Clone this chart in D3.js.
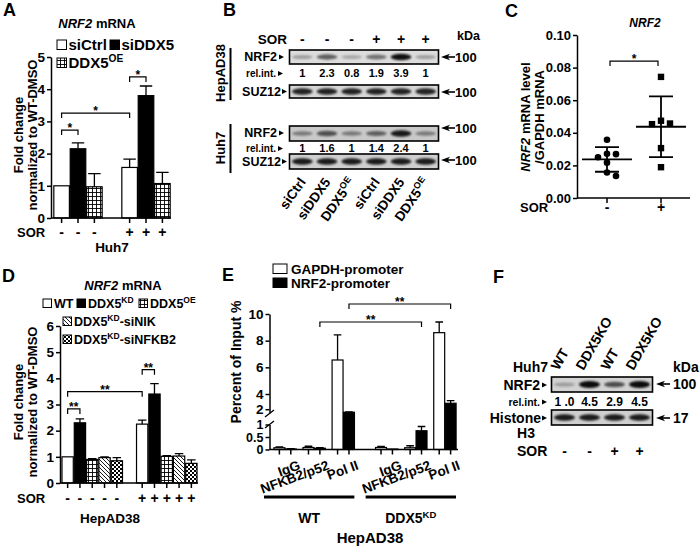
<!DOCTYPE html>
<html lang="en">
<head>
<meta charset="UTF-8">
<title>NRF2 / DDX5 figure</title>
<script src="https://d3js.org/d3.v7.min.js"></script>
<style>
  body { margin: 0; background: #fff; }
  svg { font-family: 'Liberation Sans', Arial, sans-serif; font-weight: bold; }
</style>
</head>
<body>
<div id="fig"></div>
<script>
// ---------- data ----------
// A : NRF2 mRNA, Huh7
const aSor = ["-", "+"];
const aConds = ["siCtrl", "siDDX5", "DDX5OE"];
const aMean = [[1.0, 2.15, 0.97], [1.57, 3.8, 1.07]];
const aErr = [[0, 0.18, 0.41], [0.26, 0.3, 0.35]];
const aTicks = [0, 1, 2, 3, 4, 5];
const aSig = [
  { a: ["-", "siCtrl"], b: ["-", "siDDX5"], y: 2.73, label: "*" },
  { a: ["-", "siCtrl"], b: ["+", "siCtrl"], y: 3.26, label: "*" },
  { a: ["+", "siCtrl"], b: ["+", "siDDX5"], y: 4.38, label: "*" }
];

// B : western blots
const bLaneLabels = ["siCtrl", "siDDX5", "DDX5OE", "siCtrl", "siDDX5", "DDX5OE"];
const bSor = ["-", "-", "-", "+", "+", "+"];
const bHepNrf2 = [1, 2.3, 0.8, 1.9, 3.9, 1];
const bHuhNrf2 = [1, 1.6, 1, 1.4, 2.4, 1];
const bLoading = [1, 1, 1, 1, 1, 1];

// C : NRF2 mRNA / GAPDH
const cGroups = ["-", "+"];
const cNeg = [0.0357, 0.0271, 0.0269, 0.0250, 0.0217, 0.0156, 0.0135];
const cPos = [0.0743, 0.0474, 0.0453, 0.0457, 0.0306, 0.0189];
const cTicks = [0, 0.02, 0.04, 0.06, 0.08, 0.10];

// D : NRF2 mRNA, HepAD38
const dSor = ["-", "+"];
const dConds = ["WT", "DDX5KD", "DDX5OE", "DDX5KD-siNIK", "DDX5KD-siNFKB2"];
const dMean = [[1.0, 2.3, 0.9, 0.97, 0.85], [2.25, 3.4, 1.02, 1.03, 0.75]];
const dErr = [[0, 0.15, 0.03, 0.03, 0.12], [0.15, 0.4, 0.03, 0.09, 0.13]];
const dTicks = [0, 1, 2, 3, 4, 5, 6];
const dSig = [
  { a: ["-", "WT"], b: ["-", "DDX5KD"], y: 2.83, label: "**" },
  { a: ["-", "WT"], b: ["+", "WT"], y: 3.49, label: "**" },
  { a: ["+", "WT"], b: ["+", "DDX5KD"], y: 4.33, label: "**" }
];

// E : ChIP, percent of input
const eLines = ["WT", "DDX5KD"];
const eAbs = ["IgG", "NFKB2/p52", "Pol II"];
const ePromoters = ["GAPDH-promoter", "NRF2-promoter"];
const eGapdh = [[0.07, 0.08, 6.55], [0.08, 0.07, 8.6]];
const eGapdhErr = [[0.03, 0.05, 1.88], [0.04, 0.08, 0.8]];
const eNrf2 = [[0.02, 0.05, 1.6], [0.02, 0.75, 2.78]];
const eNrf2Err = [[0.01, 0.02, 0.05], [0, 0.17, 0.34]];
const eUpperTicks = [2, 4, 6, 8, 10];
const eLowerTicks = [0, 0.5, 1];
const eSig = [
  { a: ["WT", "NFKB2/p52"], b: ["DDX5KD", "NFKB2/p52"], y: 9.4, label: "**" },
  { a: ["WT", "Pol II"], b: ["DDX5KD", "Pol II"], y: 10.75, label: "**" }
];

// F : western blot Huh7
const fLanes = ["WT", "DDX5KO", "WT", "DDX5KO"];
const fSor = ["-", "-", "+", "+"];
const fNrf2 = [1.0, 4.5, 2.9, 4.5];
const fNrf2Text = ["1 .0", "4.5", "2.9", "4.5"];
const fHistone = [1, 1, 1, 1];

// ---------- setup ----------
const svg = d3.select("#fig").append("svg").attr("width", 700).attr("height", 550);
const defs = svg.append("defs");

const pGrid = defs.append("pattern").attr("id", "grid").attr("patternUnits", "userSpaceOnUse").attr("width", 4).attr("height", 4);
pGrid.append("rect").attr("width", 4).attr("height", 4).attr("fill", "#fff");
pGrid.append("path").attr("d", "M0,0.5H4M0.5,0V4").attr("stroke", "#000").attr("stroke-width", 0.9);

const pDiag = defs.append("pattern").attr("id", "diag").attr("patternUnits", "userSpaceOnUse").attr("width", 4).attr("height", 4);
pDiag.append("rect").attr("width", 4).attr("height", 4).attr("fill", "#fff");
pDiag.append("path").attr("d", "M0,0L4,4M-1,3L1,5M3,-1L5,1").attr("stroke", "#000").attr("stroke-width", 0.9);

const pCheck = defs.append("pattern").attr("id", "check").attr("patternUnits", "userSpaceOnUse").attr("width", 4).attr("height", 4);
pCheck.append("rect").attr("width", 4).attr("height", 4).attr("fill", "#fff");
pCheck.append("rect").attr("width", 2).attr("height", 2).attr("fill", "#000");
pCheck.append("rect").attr("x", 2).attr("y", 2).attr("width", 2).attr("height", 2).attr("fill", "#000");

const blur = defs.append("filter").attr("id", "blur")
  .attr("x", "-20%").attr("y", "-100%").attr("width", "140%").attr("height", "300%");
blur.append("feGaussianBlur").attr("stdDeviation", 1.2);

const fills = {
  siCtrl: "#fff", siDDX5: "#000", DDX5OE: "url(#grid)",
  WT: "#fff", DDX5KD: "#000", "DDX5KD-siNIK": "url(#diag)", "DDX5KD-siNFKB2": "url(#check)",
  "GAPDH-promoter": "#fff", "NRF2-promoter": "#000"
};

// text with DDX5 superscripts
function rich(t, name, size) {
  const m = name.match(/^(DDX5)(OE|KD)(.*)$/);
  if (!m) return t.text(name);
  t.append("tspan").text(m[1]);
  t.append("tspan").attr("font-size", size * 0.68).attr("dy", -size * 0.38).text(m[2]);
  if (m[3]) t.append("tspan").attr("font-size", size).attr("dy", size * 0.38).text(m[3]);
  return t;
}

function txt(x, y, s, size, anchor) {
  return svg.append("text").attr("x", x).attr("y", y).attr("font-size", size)
    .attr("text-anchor", anchor || "start").text(s);
}

function vtxt(x, y, size) {
  return svg.append("text").attr("transform", `translate(${x},${y}) rotate(-90)`)
    .attr("font-size", size).attr("text-anchor", "middle");
}

function styleAxis(g, size) {
  g.attr("font-family", null).attr("font-size", size);
  g.select(".domain").attr("stroke-width", 1.5);
  g.selectAll(".tick line").attr("stroke-width", 1.5);
}

function bracket(x1, x2, yb, label, size) {
  svg.append("path").attr("d", `M${x1},${yb + 5}V${yb}H${x2}V${yb + 5}`)
    .attr("fill", "none").attr("stroke", "#000").attr("stroke-width", 1.2);
  txt((x1 + x2) / 2, yb + 2, label, size, "middle");
}

function pointer(x, y) {
  svg.append("path").attr("d", `M${x},${y - 2.5}L${x + 5},${y}L${x},${y + 2.5}Z`).attr("fill", "#000");
}

function arrowLeft(x, y) {
  svg.append("path").attr("d", `M${x},${y}L${x + 9},${y - 3.2}L${x + 6.5},${y}L${x + 9},${y + 3.2}Z`).attr("fill", "#000");
  svg.append("line").attr("x1", x + 6).attr("x2", x + 14).attr("y1", y).attr("y2", y)
    .attr("stroke", "#000").attr("stroke-width", 1.6);
}

function blot(xs, top, h, vals, maxV, bg) {
  const op = d3.scaleLinear().domain([0, maxV]).range([0.06, 0.95]);
  const [r0, r1] = xs.range();
  svg.append("rect").attr("x", r0 - 0.5).attr("y", top).attr("width", r1 - r0 + 1).attr("height", h)
    .attr("fill", bg).attr("stroke", "#000").attr("stroke-width", 1.6);
  svg.append("g").attr("filter", "url(#blur)")
    .selectAll("ellipse").data(vals).join("ellipse")
    .attr("cx", (d, i) => xs(i) + xs.bandwidth() / 2)
    .attr("cy", top + h / 2)
    .attr("rx", xs.bandwidth() * 0.42)
    .attr("ry", d => 1.6 + 1.8 * d / maxV)
    .attr("fill", "#000")
    .attr("opacity", d => op(d));
}

// grouped bar panel (A, D)
function barPanel(c) {
  const rows = [];
  c.sor.forEach((s, i) => c.conds.forEach((k, j) => rows.push({ s, k, v: c.mean[i][j], e: c.err[i][j] })));
  const bw = c.x1.bandwidth();
  const cx = (s, k) => c.x0(s) + c.x1(k) + bw / 2;

  svg.append("g").selectAll("rect").data(rows).join("rect")
    .attr("x", d => c.x0(d.s) + c.x1(d.k)).attr("y", d => c.y(d.v))
    .attr("width", bw).attr("height", d => c.y(0) - c.y(d.v))
    .attr("fill", d => fills[d.k]).attr("stroke", "#000").attr("stroke-width", 1.2);

  svg.append("g").attr("stroke", "#000").attr("stroke-width", 1.3).attr("fill", "none")
    .selectAll("path").data(rows.filter(d => d.e > 0)).join("path")
    .attr("d", d => {
      const x = cx(d.s, d.k), h = bw * c.cap / 2, t = c.y(d.v + d.e);
      return `M${x},${c.y(d.v)}V${t}M${x - h},${t}H${x + h}`;
    });

  const ya = svg.append("g").attr("transform", `translate(${c.axisX},0)`)
    .call(d3.axisLeft(c.y).tickValues(c.ticks).tickSize(4).tickSizeOuter(0).tickPadding(2).tickFormat(d3.format("d")));
  styleAxis(ya, 13.5);

  const y0 = c.y(0);
  svg.append("line").attr("x1", c.axisX).attr("x2", c.xEnd).attr("y1", y0).attr("y2", y0)
    .attr("stroke", "#000").attr("stroke-width", 1.5);
  svg.append("g").selectAll("line").data(rows).join("line")
    .attr("x1", d => cx(d.s, d.k)).attr("x2", d => cx(d.s, d.k))
    .attr("y1", y0).attr("y2", y0 + 5).attr("stroke", "#000").attr("stroke-width", 1.5);

  txt(17, c.sorY, "SOR", 13);
  svg.append("g").selectAll("text").data(rows).join("text")
    .attr("x", d => cx(d.s, d.k)).attr("y", c.sorY).attr("font-size", 14)
    .attr("text-anchor", "middle").text(d => d.s);

  c.sig.forEach(s => bracket(cx(...s.a), cx(...s.b), c.y(s.y), s.label, 12));
}

// ---------- panel letters ----------
txt(3, 16, "A", 18);
txt(223, 16, "B", 18);
txt(505, 17, "C", 18);
txt(2, 282, "D", 18);
txt(222, 281, "E", 18);
txt(493, 283, "F", 18);

// ---------- A ----------
{
  const t = txt(97, 28, "", 13, "middle");
  t.append("tspan").attr("font-style", "italic").text("NRF2");
  t.append("tspan").text(" mRNA");

  const yA = d3.scaleLinear().domain([0, 5]).range([218, 57]);
  const xA0 = d3.scaleBand().domain(aSor).range([53, 171]).paddingInner(0.265);
  const xA1 = d3.scaleBand().domain(aConds).range([0, xA0.bandwidth()]).padding(0.05);
  barPanel({ sor: aSor, conds: aConds, mean: aMean, err: aErr, y: yA, x0: xA0, x1: xA1,
    axisX: 51, xEnd: 171, ticks: aTicks, sorY: 237, sig: aSig, cap: 0.8 });

  vtxt(23, 135, 13).text("Fold change");
  vtxt(37, 135, 13).text("normalized to WT-DMSO");
  txt(112, 252, "Huh7", 13.5, "middle");

  // legend
  const leg = [
    { k: "siCtrl", x: 57, y: 40 },
    { k: "siDDX5", x: 110, y: 40 },
    { k: "DDX5OE", x: 57, y: 58 }
  ];
  leg.forEach(l => {
    svg.append("rect").attr("x", l.x).attr("y", l.y).attr("width", 9.5).attr("height", 9.5)
      .attr("fill", fills[l.k]).attr("stroke", "#000").attr("stroke-width", 1);
    rich(txt(l.x + 11.5, l.y + 10, "", 15), l.k, 15);
  });
}

// ---------- B ----------
{
  const bx = d3.scaleBand().domain(d3.range(6)).range([290, 438]);
  const lc = i => bx(i) + bx.bandwidth() / 2;

  txt(287, 44, "SOR", 13.5, "end");
  bSor.forEach((s, i) => txt(lc(i), 44, s, 14, "middle"));
  txt(457, 40, "kDa", 12.5);

  // HepAD38
  blot(bx, 50, 14, bHepNrf2, 4.0, "#dcdcdc");
  txt(277, 61, "NRF2", 12.5, "end"); pointer(279, 57);
  txt(276, 77, "rel.int.", 10, "end"); pointer(278, 73.5);
  bHepNrf2.forEach((v, i) => txt(lc(i), 77, String(v), 11, "middle"));
  blot(bx, 85, 13, bLoading, 1.15, "#d6d6d6");
  txt(281, 96, "SUZ12", 12.5, "end"); pointer(282, 91.5);
  arrowLeft(441, 57); txt(455, 62, "100", 13);
  arrowLeft(441, 92); txt(455, 97, "100", 13);
  svg.append("line").attr("x1", 230.5).attr("x2", 230.5).attr("y1", 48).attr("y2", 100)
    .attr("stroke", "#000").attr("stroke-width", 2);
  vtxt(225, 73, 13).text("HepAD38");

  // Huh7
  blot(bx, 126, 15, bHuhNrf2, 2.6, "#c9c9c9");
  txt(277, 137, "NRF2", 12.5, "end"); pointer(279, 133);
  txt(276, 152, "rel.int.", 10, "end"); pointer(278, 148.5);
  bHuhNrf2.forEach((v, i) => txt(lc(i), 152, String(v), 11, "middle"));
  blot(bx, 154, 15, bLoading, 1.1, "#cfcfcf");
  txt(281, 166, "SUZ12", 12.5, "end"); pointer(282, 161.5);
  arrowLeft(441, 128); txt(455, 133, "100", 13);
  arrowLeft(441, 160); txt(455, 165, "100", 13);
  svg.append("line").attr("x1", 230.5).attr("x2", 230.5).attr("y1", 124).attr("y2", 173)
    .attr("stroke", "#000").attr("stroke-width", 2);
  vtxt(225, 148, 13).text("Huh7");

  bLaneLabels.forEach((l, i) => {
    const t = svg.append("text").attr("transform", `translate(${lc(i) + 4},182) rotate(-55)`)
      .attr("font-size", 13.5).attr("text-anchor", "end");
    rich(t, l, 13.5);
  });
}

// ---------- C ----------
{
  txt(645, 27, "NRF2", 12, "middle").attr("font-style", "italic");
  const yC = d3.scaleLinear().domain([0, 0.1]).range([198, 35]);
  const xC = d3.scalePoint().domain(cGroups).range([607, 661]);

  const ya = svg.append("g").attr("transform", "translate(577,0)")
    .call(d3.axisLeft(yC).tickValues(cTicks).tickSize(4).tickSizeOuter(0).tickPadding(2).tickFormat(d3.format(".2f")));
  styleAxis(ya, 13);
  svg.append("line").attr("x1", 577).attr("x2", 690).attr("y1", 198).attr("y2", 198)
    .attr("stroke", "#000").attr("stroke-width", 1.5);
  cGroups.forEach(g => {
    svg.append("line").attr("x1", xC(g)).attr("x2", xC(g)).attr("y1", 198).attr("y2", 203)
      .attr("stroke", "#000").attr("stroke-width", 1.5);
    txt(xC(g), 212, g, 14, "middle");
  });
  txt(520, 212, "SOR", 13);

  const l1 = vtxt(530, 117, 13);
  l1.append("tspan").attr("font-style", "italic").text("NRF2");
  l1.append("tspan").text(" mRNA level");
  vtxt(544, 117, 13).text("/GAPDH mRNA");

  // simple dodge so points don't overlap
  function dodge(vals, minDist, step) {
    const placed = [], off = new Array(vals.length);
    vals.map((v, i) => i).sort((a, b) => vals[b] - vals[a]).forEach(i => {
      const py = yC(vals[i]);
      for (let k = 0; k < 20; k++) {
        const o = k === 0 ? 0 : (k % 2 ? 1 : -1) * Math.ceil(k / 2) * step;
        if (placed.every(p => Math.hypot(p.o - o, p.y - py) >= minDist)) {
          off[i] = o; placed.push({ o, y: py }); break;
        }
      }
    });
    return off;
  }

  [cNeg, cPos].forEach((vals, gi) => {
    const x = xC(cGroups[gi]);
    const m = d3.mean(vals), sd = d3.deviation(vals);
    const off = dodge(vals, 8, 9);
    if (gi === 0) {
      svg.append("g").selectAll("circle").data(vals).join("circle")
        .attr("cx", (d, i) => x + off[i]).attr("cy", d => yC(d)).attr("r", 3.3).attr("fill", "#000");
    } else {
      svg.append("g").selectAll("rect").data(vals).join("rect")
        .attr("x", (d, i) => x + off[i] - 3.2).attr("y", d => yC(d) - 3.2)
        .attr("width", 6.4).attr("height", 6.4).attr("fill", "#000");
    }
    svg.append("path")
      .attr("d", `M${x - 25},${yC(m)}H${x + 25}M${x},${yC(m - sd)}V${yC(m + sd)}M${x - 12},${yC(m - sd)}H${x + 12}M${x - 12},${yC(m + sd)}H${x + 12}`)
      .attr("stroke", "#000").attr("stroke-width", 1.8).attr("fill", "none");
  });

  bracket(xC("-") + 3, xC("+") - 3, yC(0.084), "*", 12);
}

// ---------- D ----------
{
  const t = txt(123, 290, "", 13, "middle");
  t.append("tspan").attr("font-style", "italic").text("NRF2");
  t.append("tspan").text(" mRNA");

  const yD = d3.scaleLinear().domain([0, 6]).range([483, 326]);
  const xD0 = d3.scaleBand().domain(dSor).range([61, 198]).paddingInner(0.162);
  const xD1 = d3.scaleBand().domain(dConds).range([0, xD0.bandwidth()]).padding(0.08);
  barPanel({ sor: dSor, conds: dConds, mean: dMean, err: dErr, y: yD, x0: xD0, x1: xD1,
    axisX: 60, xEnd: 198, ticks: dTicks, sorY: 503, sig: dSig, cap: 0.75 });

  vtxt(23, 402, 13).text("Fold change");
  vtxt(37, 402, 13).text("normalized to WT-DMSO");
  txt(110, 523, "HepAD38", 13.5, "middle");

  const leg = [
    { k: "WT", x: 43, y: 299 },
    { k: "DDX5KD", x: 77, y: 299 },
    { k: "DDX5OE", x: 139, y: 299 },
    { k: "DDX5KD-siNIK", x: 63, y: 317 },
    { k: "DDX5KD-siNFKB2", x: 63, y: 335 }
  ];
  leg.forEach(l => {
    svg.append("rect").attr("x", l.x).attr("y", l.y).attr("width", 8.5).attr("height", 8.5)
      .attr("fill", fills[l.k]).attr("stroke", "#000").attr("stroke-width", 1);
    rich(txt(l.x + 11, l.y + 8.5, "", 12.5), l.k, 12.5);
  });
}

// ---------- E ----------
{
  const yU = d3.scaleLinear().domain([1.5, 4, 10]).range([413, 394, 314]);
  const yL = d3.scaleLinear().domain([0, 1]).range([449.5, 424.5]);
  const yE = v => v <= 1 ? yL(v) : yU(v);

  const x0 = d3.scaleBand().domain(eLines).range([272, 458]).paddingInner(0.17);
  const x1 = d3.scaleBand().domain(eAbs).range([0, x0.bandwidth()]).paddingInner(0.2).paddingOuter(0.05);
  const x2 = d3.scaleBand().domain(ePromoters).range([0, x1.bandwidth()]).padding(0.04);
  const bw = x2.bandwidth();

  const rows = [];
  eLines.forEach((ln, i) => eAbs.forEach((ab, j) => {
    rows.push({ ln, ab, p: ePromoters[0], v: eGapdh[i][j], e: eGapdhErr[i][j] });
    rows.push({ ln, ab, p: ePromoters[1], v: eNrf2[i][j], e: eNrf2Err[i][j] });
  }));
  const bx = d => x0(d.ln) + x1(d.ab) + x2(d.p);

  svg.append("g").selectAll("rect").data(rows).join("rect")
    .attr("x", bx).attr("y", d => yE(d.v)).attr("width", bw)
    .attr("height", d => yL(0) - yE(d.v))
    .attr("fill", d => fills[d.p]).attr("stroke", "#000").attr("stroke-width", 1.2);
  svg.append("g").attr("stroke", "#000").attr("stroke-width", 1.3).attr("fill", "none")
    .selectAll("path").data(rows.filter(d => d.e > 0)).join("path")
    .attr("d", d => {
      const x = bx(d) + bw / 2, h = bw * 0.35, t = yE(d.v + d.e);
      return `M${x},${yE(d.v)}V${t}M${x - h},${t}H${x + h}`;
    });

  const gu = svg.append("g").attr("transform", "translate(269.5,0)")
    .call(d3.axisLeft(yU).tickValues(eUpperTicks).tickSize(4).tickSizeOuter(0).tickPadding(2));
  styleAxis(gu, 13.5);
  const gl = svg.append("g").attr("transform", "translate(269.5,0)")
    .call(d3.axisLeft(yL).tickValues(eLowerTicks).tickSize(4).tickSizeOuter(0).tickPadding(2).tickFormat(d3.format("~g")));
  styleAxis(gl, 12.5);
  // axis break marks
  svg.append("path").attr("d", "M265,417L274,410M265,428L274,421")
    .attr("stroke", "#000").attr("stroke-width", 1.3);

  svg.append("line").attr("x1", 269.5).attr("x2", 458).attr("y1", yL(0)).attr("y2", yL(0))
    .attr("stroke", "#000").attr("stroke-width", 1.5);
  svg.append("g").selectAll("line").data(rows).join("line")
    .attr("x1", d => bx(d) + bw / 2).attr("x2", d => bx(d) + bw / 2)
    .attr("y1", yL(0)).attr("y2", yL(0) + 5).attr("stroke", "#000").attr("stroke-width", 1.5);

  // category labels
  eLines.forEach(ln => eAbs.forEach(ab => {
    const cx = x0(ln) + x1(ab) + x1.bandwidth() / 2;
    svg.append("text").attr("transform", `translate(${cx + 16},469) rotate(-20)`)
      .attr("font-size", 13.5).attr("text-anchor", "end").text(ab);
  }));
  eLines.forEach(ln => {
    const a = x0(ln) - 8, b = x0(ln) + x0.bandwidth() - 2;
    svg.append("line").attr("x1", a).attr("x2", b).attr("y1", 497).attr("y2", 497)
      .attr("stroke", "#000").attr("stroke-width", 3);
    rich(txt((a + b) / 2, 523, "", 14, "middle"), ln, 14);
  });
  txt(370, 543, "HepAD38", 15, "middle");
  vtxt(241, 362, 14).text("Percent of Input %");

  // legend
  ePromoters.forEach((p, i) => {
    svg.append("rect").attr("x", 273).attr("y", 264 + i * 14).attr("width", 14).attr("height", 9.5)
      .attr("fill", fills[p]).attr("stroke", "#000").attr("stroke-width", 1);
    txt(291, 274 + i * 14, p, 13.5);
  });

  const cxAt = (ln, ab) => x0(ln) + x1(ab) + x2(ePromoters[1]) + bw / 2;
  eSig.forEach(s => bracket(cxAt(...s.a), cxAt(...s.b), yE(s.y), s.label, 12));
}

// ---------- F ----------
{
  const fx = d3.scaleBand().domain(d3.range(4)).range([552, 652]);
  const lc = i => fx(i) + fx.bandwidth() / 2;

  fLanes.forEach((l, i) => {
    svg.append("text").attr("transform", `translate(${lc(i) - 6},371) rotate(-60)`)
      .attr("font-size", 14).text(l);
  });
  txt(513, 372, "Huh7", 14);
  txt(673, 372, "kDa", 14);

  blot(fx, 377, 15, fNrf2, 4.5, "#d2d2d2");
  txt(540, 390, "NRF2", 14, "end"); pointer(542, 385);
  txt(540, 406, "rel.int.", 10.5, "end"); pointer(542, 402);
  fNrf2Text.forEach((s, i) => txt(lc(i), 406, s, 12, "middle"));
  blot(fx, 410, 15, fHistone, 1.1, "#cfcfcf");
  txt(541, 423, "Histone", 14, "end"); pointer(542, 418);
  txt(526, 438, "H3", 14, "middle");
  arrowLeft(656, 384); txt(673, 389, "100", 14);
  arrowLeft(656, 418); txt(673, 423, "17", 14);

  txt(517, 456, "SOR", 14);
  fSor.forEach((s, i) => txt(lc(i), 456, s, 14, "middle"));
}
</script>
</body>
</html>
